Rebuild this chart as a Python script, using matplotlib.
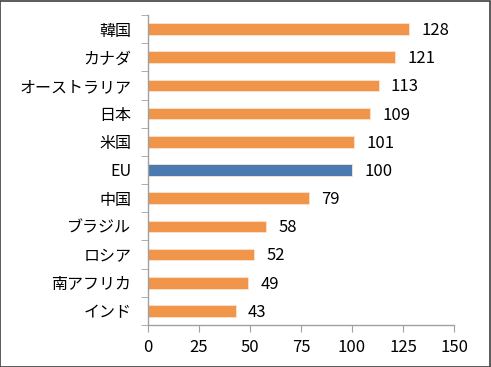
import numpy as np
import matplotlib
matplotlib.use("Agg")
import matplotlib.pyplot as plt

plt.rcParams['font.family'] = ['Noto Sans CJK JP', 'DejaVu Sans']

countries = ["韓国", "カナダ", "オーストラリア", "日本", "米国", "EU",
             "中国", "ブラジル", "ロシア", "南アフリカ", "インド"]
values = [128, 121, 113, 109, 101, 100, 79, 58, 52, 49, 43]
orange = "#F0954A"
blue = "#4A7AB0"
colors = [blue if c == "EU" else orange for c in countries]

fig = plt.figure(figsize=(4.91, 3.67), dpi=100)
ax = fig.add_axes([148/491, 1-325/367, 306/491, 310/367])

y = np.arange(len(countries))
bars = ax.barh(y, values, height=0.41, color=colors, edgecolor="#FBE3CF", linewidth=0.6)
for b, v in zip(bars, values):
    ax.text(v + 6, b.get_y() + b.get_height()/2 + 0.05, str(v), va="center", ha="left", fontsize=12)

ax.set_ylim(len(countries) - 0.5, -0.5)
ax.set_xlim(0, 150)
ax.set_xticks([0, 25, 50, 75, 100, 125, 150])
ax.set_yticks(y)
ax.set_yticklabels(countries, fontsize=11.5)
ax.tick_params(axis="x", labelsize=12, length=5, color="#A0A0A0", pad=5)
# ticks on y at category boundaries
ax.set_yticks(np.arange(-0.5, len(countries)), minor=True)
ax.tick_params(axis="y", which="major", length=0, pad=12)
ax.tick_params(axis="y", which="minor", length=5, color="#A0A0A0")
for s in ["top", "right"]:
    ax.spines[s].set_visible(False)
for s in ["left", "bottom"]:
    ax.spines[s].set_color("#A0A0A0")
    ax.spines[s].set_linewidth(1)

fig.patches.append(plt.Rectangle((0.001, 0.001), 0.997, 0.996, transform=fig.transFigure,
                                 fill=False, edgecolor="#404040", linewidth=1.2))

fig.savefig("out.png", dpi=100)
